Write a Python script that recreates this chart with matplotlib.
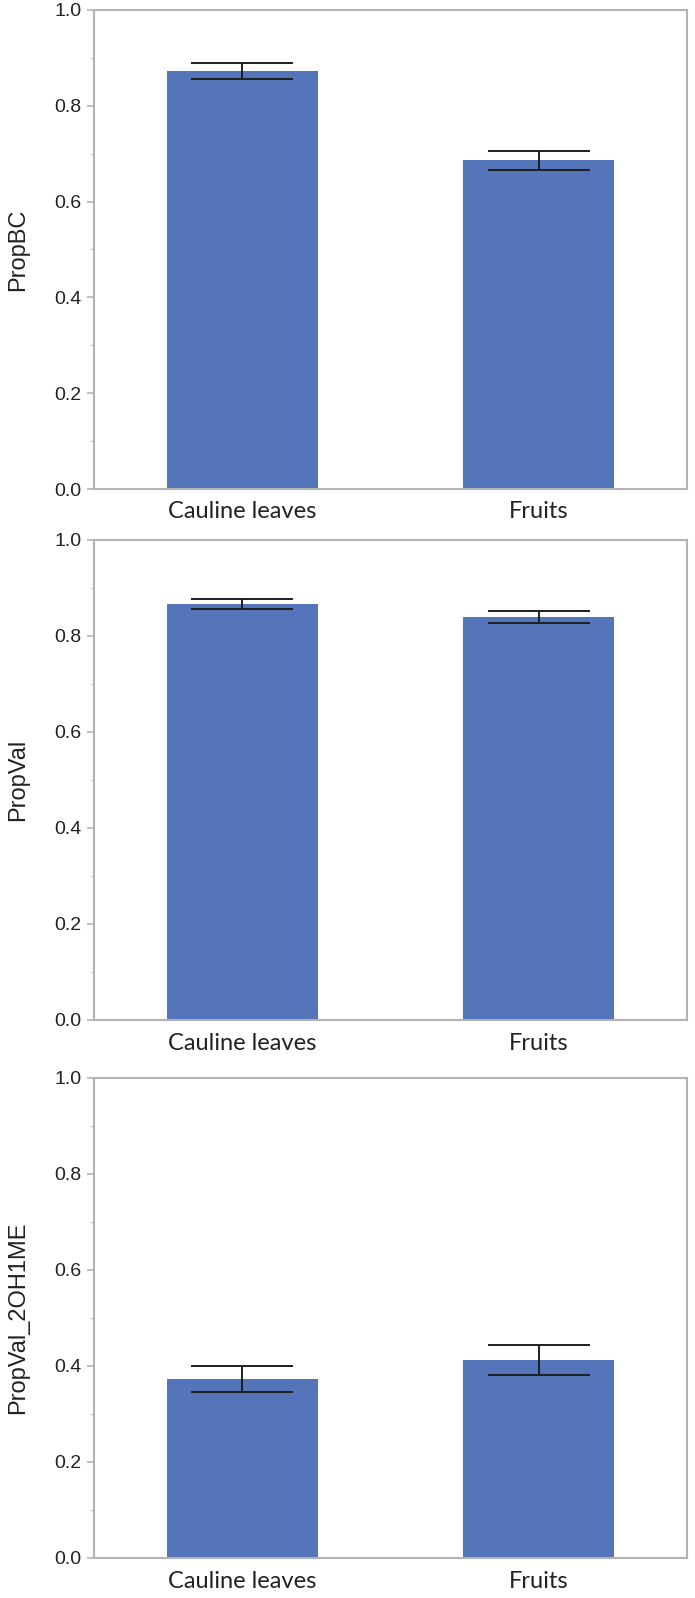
import matplotlib
matplotlib.use("Agg")
import matplotlib.pyplot as plt
from matplotlib.ticker import MultipleLocator

categories = ["Cauline leaves", "Fruits"]
ylabels = ["PropBC", "PropVal", "PropVal_2OH1ME"]
means_bc = [0.873, 0.687]
err_lo_bc = [0.856, 0.666]
err_hi_bc = [0.889, 0.706]
means_val = [0.867, 0.840]
err_lo_val = [0.856, 0.827]
err_hi_val = [0.877, 0.852]
means_oh = [0.373, 0.4125]
err_lo_oh = [0.346, 0.381]
err_hi_oh = [0.400, 0.444]

panels = [
    (ylabels[0], means_bc, err_lo_bc, err_hi_bc),
    (ylabels[1], means_val, err_lo_val, err_hi_val),
    (ylabels[2], means_oh, err_lo_oh, err_hi_oh),
]

W, H = 695, 1598
fig = plt.figure(figsize=(W / 100, H / 100), dpi=100)
# (top, bottom) pixel positions of each panel
boxes = [(10, 489), (540, 1020), (1078, 1558)]
left_px, right_px = 94, 687
bar_color = "#5475b9"
spine_color = "#b3b3b3"

for (lab, m, lo, hi), (top, bot) in zip(panels, boxes):
    ax = fig.add_axes([left_px / W, 1 - bot / H, (right_px - left_px) / W, (bot - top) / H])
    x = list(range(len(categories)))
    ax.bar(x, m, width=0.51, color=bar_color, zorder=2)
    yerr = [[mi - l for mi, l in zip(m, lo)], [h - mi for mi, h in zip(m, hi)]]
    ax.errorbar(x, m, yerr=yerr, fmt="none", ecolor="#1e1e1e", elinewidth=1.4,
                capsize=36.4, capthick=1.4, zorder=3)
    ax.set_xlim(-0.5, 1.5)
    ax.set_ylim(0, 1.0)
    ax.yaxis.set_major_locator(MultipleLocator(0.2))
    ax.yaxis.set_minor_locator(MultipleLocator(0.1))
    ax.set_yticklabels([f"{v:.1f}" for v in ax.get_yticks()])
    for s in ax.spines.values():
        s.set_color(spine_color)
        s.set_linewidth(1.5)
    ax.tick_params(axis="y", which="major", length=5, width=1.2, color=spine_color,
                   labelsize=14, labelcolor="#222222", pad=4)
    ax.tick_params(axis="y", which="minor", length=3, width=1.0, color="#d0d0d0")
    for t in ax.get_yticklabels():
        t.set_fontfamily("Liberation Sans")
    ax.set_xticks(x)
    ax.set_xticklabels(categories, fontfamily="Lato", fontsize=17, color="#222222")
    ax.tick_params(axis="x", length=0, pad=9)
    fig.text(18 / W, 1 - (top + bot) / 2 / H, lab, rotation=90, ha="center", va="center",
             fontsize=17, fontfamily="Liberation Sans", color="#222222")

fig.savefig("out.png", dpi=100)
